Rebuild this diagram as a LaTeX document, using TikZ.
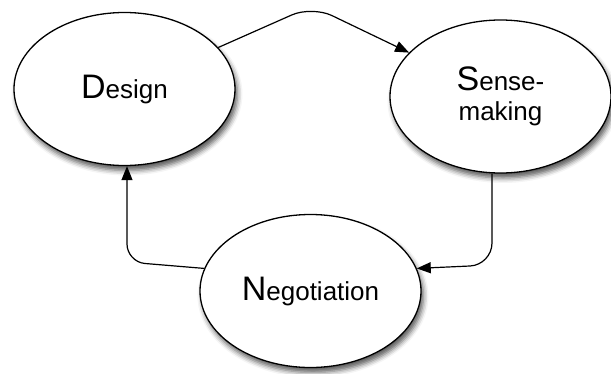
\documentclass[tikz,border=0pt]{standalone}
\usepackage{fontspec}
\setmainfont{Liberation Sans}
\usetikzlibrary{shapes.geometric, positioning, arrows.meta, shadows.blur}
\newcommand{\leadchar}[1]{{\fontsize{34}{34}\selectfont #1}}

\begin{document}
\begin{tikzpicture}[node distance=2cm, on grid, auto]
                \tikzset{phase/.style={ellipse, draw, line width=1.3pt, fill=white,
                    minimum width=221pt, minimum height=153pt, inner sep=0pt, align=center,
                    font=\fontsize{26}{30}\selectfont,
                    blur shadow={shadow xshift=2.5pt, shadow yshift=-5pt, shadow blur radius=5pt, shadow opacity=65}}}
                \tikzset{flow/.style={line width=1.2pt, -{Triangle[length=14pt,width=11pt]}}}

                \useasboundingbox (-124.5pt,89pt) rectangle (486.5pt,-284pt);

                \node[phase] (design) {\leadchar{D}esign};
                \node[phase] (sense) [below right=7.5pt and 376pt of design] {\leadchar{S}ense-\\making};
                \node[phase] (nego) [below right=202pt and 186pt of design] {\leadchar{N}egotiation};

                % bends of the connectors
                \coordinate (top) at (187.5pt,83pt);
                \coordinate (turnright) at (367.5pt,-176pt);
                \coordinate (turnleft) at (2.5pt,-173pt);

                \draw[flow, rounded corners=22pt] (design) -- (top) -- (sense);
                \draw[flow, rounded corners=22pt] (sense.south -| turnright) -- (turnright) -- (nego.12);
                \draw[flow, rounded corners=18pt] (nego.168) -- (turnleft) -- (design.south -| turnleft);

            \end{tikzpicture}
\end{document}
